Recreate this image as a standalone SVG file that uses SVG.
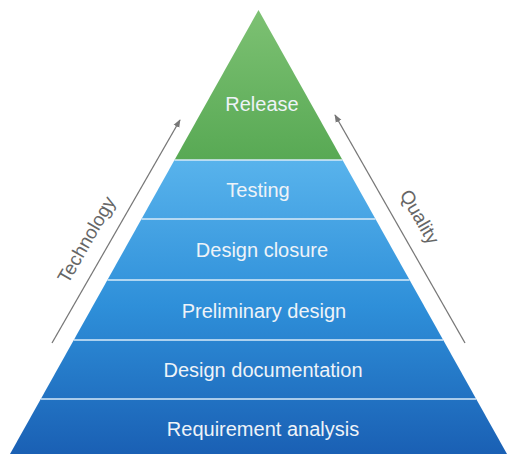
<svg xmlns="http://www.w3.org/2000/svg" width="509" height="454" viewBox="0 0 509 454">
<defs>
<linearGradient id="g" x1="0" y1="10" x2="0" y2="160" gradientUnits="userSpaceOnUse">
<stop offset="0" stop-color="#7dc173"/><stop offset="1" stop-color="#58a954"/>
</linearGradient>
<linearGradient id="b" x1="0" y1="160" x2="0" y2="454" gradientUnits="userSpaceOnUse">
<stop offset="0" stop-color="#58b3ec"/><stop offset="0.5" stop-color="#2e8fd9"/><stop offset="1" stop-color="#1a60b4"/>
</linearGradient>
<marker id="ah" viewBox="0 0 10 10" refX="9" refY="5" markerWidth="8" markerHeight="8" orient="auto" markerUnits="userSpaceOnUse">
<path d="M0,1 L10,5 L0,9 z" fill="#777"/>
</marker>
<style>
.lbl{font-family:"Liberation Sans",Arial,sans-serif;font-size:20px;fill:#eef3f8;text-anchor:middle}
.side{font-family:"Liberation Sans",Arial,sans-serif;font-size:19px;fill:#666;text-anchor:middle}
.sep{stroke:#d8ebf8;stroke-width:1.5}
.arr{stroke:#777;stroke-width:1.3;fill:none}
</style>
</defs>
<g id="release">
<polygon points="258.5,10 342.5,160 174.5,160" fill="url(#g)"/>
<text class="lbl" x="262" y="111">Release</text>
</g>
<g id="testing">
<polygon points="174.5,160 342.5,160 375.5,219 141.5,219" fill="url(#b)"/>
<text class="lbl" x="258" y="197">Testing</text>
</g>
<g id="design-closure">
<polygon points="141.5,219 375.5,219 409.6,280 107.4,280" fill="url(#b)"/>
<text class="lbl" x="262" y="257">Design closure</text>
</g>
<g id="preliminary-design">
<polygon points="107.4,280 409.6,280 443.2,340 73.8,340" fill="url(#b)"/>
<text class="lbl" x="264" y="318">Preliminary design</text>
</g>
<g id="design-documentation">
<polygon points="73.8,340 443.2,340 476.2,399 40.8,399" fill="url(#b)"/>
<text class="lbl" x="263" y="377">Design documentation</text>
</g>
<g id="requirement-analysis">
<polygon points="40.8,399 476.2,399 507,454 10,454" fill="url(#b)"/>
<text class="lbl" x="263" y="436">Requirement analysis</text>
</g>
<g id="separators">
<line class="sep" x1="174.5" y1="160" x2="342.5" y2="160"/>
<line class="sep" x1="141.5" y1="219" x2="375.5" y2="219"/>
<line class="sep" x1="107.4" y1="280" x2="409.6" y2="280"/>
<line class="sep" x1="73.8" y1="340" x2="443.2" y2="340"/>
<line class="sep" x1="40.8" y1="399" x2="476.2" y2="399"/>
</g>
<g id="connectors">
<line class="arr" x1="52" y1="343" x2="180" y2="120" marker-end="url(#ah)"/>
<line class="arr" x1="465" y1="343" x2="335" y2="115" marker-end="url(#ah)"/>
</g>
<g id="technology">
<text class="side" transform="translate(92,243) rotate(-60)">Technology</text>
</g>
<g id="quality">
<text class="side" transform="translate(414,220) rotate(60)">Quality</text>
</g>
</svg>
